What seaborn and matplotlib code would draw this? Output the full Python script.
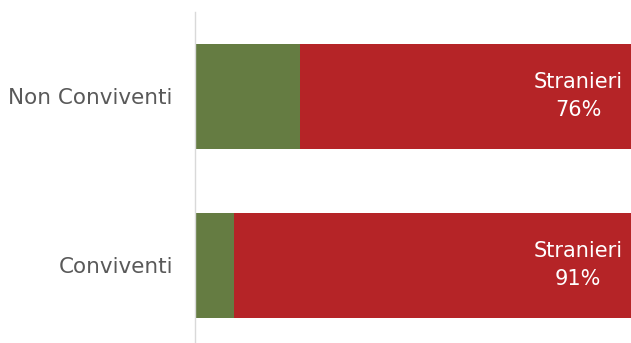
import matplotlib
matplotlib.use("Agg")
import matplotlib.pyplot as plt
import seaborn as sns
import pandas as pd

categories = ["Non Conviventi", "Conviventi"]
italiani = [24, 9]
stranieri = [76, 91]
label_name = "Stranieri"

sns.set_style("white")
plt.rcParams['font.family'] = ['DejaVu Sans']

green = "#657c42"
red = "#b52427"

fig = plt.figure(figsize=(6.31, 3.43), dpi=100)
ax = fig.add_axes([195/631, 0.0, 1 - 195/631, (343-12)/343])

totals = [i + s for i, s in zip(italiani, stranieri)]
df = pd.DataFrame({"cat": categories, "tot": totals, "ita": italiani, "str": stranieri})

sns.barplot(data=df, x="tot", y="cat", color=red, width=0.625, ax=ax, saturation=1, linewidth=0)
sns.barplot(data=df, x="ita", y="cat", color=green, width=0.625, ax=ax, saturation=1, linewidth=0)

for i, s in enumerate(stranieri):
    ax.text(87.9, i, f"{label_name}\n{s}%", color="white", ha="center", va="center",
            fontsize=15, linespacing=1.5)

ax.set_xlim(0, 100)
ax.set_ylim(1.46, -0.5)
ax.set_xlabel("")
ax.set_ylabel("")
ax.set_xticks([])
ax.tick_params(axis="y", length=0, pad=16, labelsize=15.5, labelcolor="#595959")
for sp in ["top", "right", "bottom"]:
    ax.spines[sp].set_visible(False)
ax.spines["left"].set_color("#d9d9d9")
ax.spines["left"].set_linewidth(1)

fig.savefig("out.png", dpi=100)
